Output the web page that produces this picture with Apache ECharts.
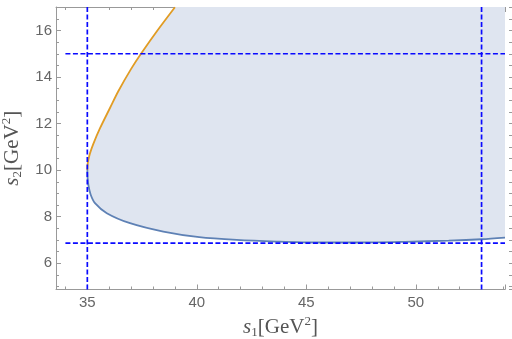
<!DOCTYPE html>
<html>
<head>
<meta charset="utf-8">
<script src="https://cdn.jsdelivr.net/npm/echarts@6/dist/echarts.min.js"></script>
<style>
  html, body { margin: 0; padding: 0; background: #fff; }
  #main { width: 512px; height: 339px; }
</style>
</head>
<body>
<div id="main"></div>
<script>
// upper branch (orange)
var upperS1 = [35.0, 35.02, 35.05, 35.12, 35.27, 35.58, 36.04, 36.42, 37.0, 37.45, 38.2, 39.0];
var upperS2 = [10.0, 10.30, 10.45, 10.72, 11.12, 11.80, 12.68, 13.40, 14.35, 15.0, 16.0, 17.0];

// lower branch (blue)
var lowerS1 = [35.0, 35.01, 35.05, 35.15, 35.35, 35.89, 36.95, 38.47, 40.11, 41.82, 43.65, 45.5, 47.5, 49.5, 51.5, 53.0, 54.07];
var lowerS2 = [10.0, 9.7, 9.35, 8.95, 8.58, 8.15, 7.72, 7.36, 7.12, 7.0, 6.93, 6.89, 6.89, 6.92, 6.97, 7.03, 7.10];

// dashed cut lines
var cutS1 = [35, 53];
var cutS2 = [6.86, 15];

var xMin = 33.57, xMax = 54.07;
var yMin = 4.87, yMax = 17.01;

var FONT = 'Liberation Sans';
var SERIF = 'Liberation Serif';
var GRAY = '#666';

function pairs(xs, ys) {
    var out = [];
    for (var i = 0; i < xs.length; i++) out.push([xs[i], ys[i]]);
    return out;
}

var upperData = pairs(upperS1, upperS2);
var lowerData = pairs(lowerS1, lowerS2);

// region outline: lower branch, up the right edge, back along the top and the upper branch
var regionPts = lowerData.slice();
regionPts.push([xMax, yMax]);
regionPts.push([upperS1[upperS1.length - 1], yMax]);
for (var i = upperData.length - 1; i >= 0; i--) regionPts.push(upperData[i]);

var dashStyle = { color: '#0a0aff', width: 1.7, type: [5, 2.5] };
var cutSeries = [];
cutS1.forEach(function (v) {
    cutSeries.push({ type: 'line', data: [[v, yMin], [v, yMax]], symbol: 'none', z: 5,
        lineStyle: dashStyle, silent: true, animation: false });
});
cutS2.forEach(function (v) {
    cutSeries.push({ type: 'line', data: [[34, v], [xMax, v]], symbol: 'none', z: 5,
        lineStyle: dashStyle, silent: true, animation: false });
});

var richName = {
    i: { fontFamily: SERIF, fontStyle: 'italic', fontSize: 21, color: '#555', lineHeight: 24 },
    sub: { fontFamily: SERIF, fontSize: 13, color: '#555', lineHeight: 13, verticalAlign: 'bottom' },
    sup: { fontFamily: SERIF, fontSize: 13, color: '#555', lineHeight: 13, verticalAlign: 'top' },
    n: { fontFamily: SERIF, fontSize: 21, color: '#555', lineHeight: 24 }
};

var axisLineStyle = { lineStyle: { color: '#999', width: 1 } };

var chart = echarts.init(document.getElementById('main'));
var option = {
    animation: false,
    grid: { left: 56, top: 7, right: 7, bottom: 49.5, outerBoundsMode: 'none', containLabel: false },
    xAxis: [{
        type: 'value', min: xMin, max: xMax, splitNumber: 4,
        name: '{i|s}{sub|1}{n|[GeV}{sup|2}{n|]}',
        nameLocation: 'middle', nameGap: 26,
        nameTextStyle: { rich: richName },
        axisLine: axisLineStyle,
        axisTick: { inside: true, length: 5, lineStyle: { color: '#999' } },
        minorTick: { show: true, splitNumber: 5, length: 3, lineStyle: { color: '#999' } },
        axisLabel: { color: GRAY, fontFamily: FONT, fontSize: 15, margin: 6,
            showMinLabel: false, showMaxLabel: false },
        splitLine: { show: false }
    }, {
        type: 'value', min: xMin, max: xMax, splitNumber: 4, position: 'top',
        axisLine: axisLineStyle,
        axisTick: { inside: true, length: 5, lineStyle: { color: '#999' } },
        minorTick: { show: true, splitNumber: 5, length: 3, lineStyle: { color: '#999' } },
        axisLabel: { show: false },
        splitLine: { show: false }
    }],
    yAxis: [{
        type: 'value', min: yMin, max: yMax, splitNumber: 6,
        name: '{i|s}{sub|2}{n|[GeV}{sup|2}{n|]}',
        nameLocation: 'middle', nameGap: 28,
        nameTextStyle: { rich: richName },
        axisLine: axisLineStyle,
        axisTick: { inside: true, length: 5, lineStyle: { color: '#999' } },
        minorTick: { show: true, splitNumber: 4, length: 3, lineStyle: { color: '#999' } },
        axisLabel: { color: GRAY, fontFamily: FONT, fontSize: 15, margin: 4,
            showMinLabel: false, showMaxLabel: false },
        splitLine: { show: false }
    }, {
        type: 'value', min: yMin, max: yMax, splitNumber: 6, position: 'right', offset: 4,
        axisLine: { show: false },
        axisTick: { inside: false, length: 4, lineStyle: { color: '#999' } },
        minorTick: { show: true, splitNumber: 4, length: 3, lineStyle: { color: '#999' } },
        axisLabel: { show: false },
        splitLine: { show: false }
    }],
    series: [{
        type: 'custom',
        z: 1,
        silent: true,
        data: [0],
        renderItem: function (params, api) {
            var pts = regionPts.map(function (p) { return api.coord(p); });
            return {
                type: 'polygon',
                shape: { points: pts },
                style: { fill: '#dfe5f0', stroke: null }
            };
        }
    }, {
        type: 'line', data: upperData, symbol: 'none', smooth: 0.3, z: 3,
        lineStyle: { color: '#e19c24', width: 1.8 }
    }, {
        type: 'line', data: lowerData, symbol: 'none', smooth: 0.3, z: 3,
        lineStyle: { color: '#5e81b5', width: 1.8 }
    }].concat(cutSeries)
};
chart.setOption(option);
</script>
</body>
</html>
